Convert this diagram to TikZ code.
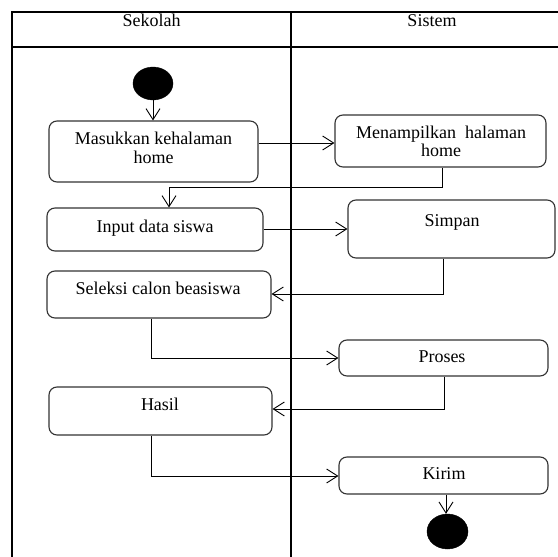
\documentclass[tikz,border=0pt]{standalone}
\usepackage{fontspec}
\setmainfont{Liberation Serif}
\usetikzlibrary{shapes.geometric,arrows.meta}
\tikzset{
  box/.style={draw=black!80, line width=1.1pt, rounded corners=8pt, inner sep=0pt, fill=white},
  txt/.style={anchor=base, inner sep=0pt, font=\fontsize{18}{19}\selectfont},
  dot/.style={ellipse, fill=black, draw=black, inner sep=0pt},
  arr/.style={line width=0.9pt, -{Straight Barb[length=11pt,width=14pt,line width=0.9pt]}},
  lane/.style={line width=1.3pt},
}
\begin{document}
\begin{tikzpicture}[x=1pt,y=1pt]
\useasboundingbox (0,0) rectangle (558,-557);
% swimlanes
\draw[lane] (12,-557) -- (12,-12) -- (558,-12);
\draw[lane] (12,-47) -- (558,-47);
\draw[lane] (291,-12) -- (291,-557);
\node[txt] (h1) at (151.5,-26) {Sekolah};
\node[txt] (h2) at (432,-26) {Sistem};
% nodes
\node[dot, minimum width=40pt, minimum height=33pt] (st) at (153,-83.5) {};
\node[box, minimum width=209pt, minimum height=61pt] (b1) at (153.5,-151.5) {};
\node[box, minimum width=211pt, minimum height=52pt] (b2) at (440.5,-141) {};
\node[box, minimum width=216pt, minimum height=43pt] (b3) at (155,-229.5) {};
\node[box, minimum width=207pt, minimum height=58pt] (b4) at (451.5,-229) {};
\node[box, minimum width=224pt, minimum height=47pt] (b5) at (159,-294.5) {};
\node[box, minimum width=209pt, minimum height=36pt] (b6) at (443.5,-358) {};
\node[box, minimum width=223pt, minimum height=48pt] (b7) at (160.5,-411) {};
\node[box, minimum width=209pt, minimum height=37pt] (b8) at (443.5,-475.5) {};
\node[dot, minimum width=41pt, minimum height=35pt] (en) at (447.5,-531.5) {};
% texts
\node[txt] (t1a) at (153.5,-144) {Masukkan kehalaman};
\node[txt] (t1b) at (153.5,-163) {home};
\node[txt] (t2a) at (441,-138) {Menampilkan\ \ halaman};
\node[txt] (t2b) at (441,-156) {home};
\node[txt] (t3) at (155,-232) {Input data siswa};
\node[txt] (t4) at (452,-226) {Simpan};
\node[txt] (t5) at (158,-294) {Seleksi calon beasiswa};
\node[txt] (t6) at (442,-362) {Proses};
\node[txt] (t7) at (160,-410) {Hasil};
\node[txt] (t8) at (444,-479) {Kirim};
% bend coordinates
\coordinate (a2) at (300,-143);
\coordinate (k3a) at (442,-187);
\coordinate (k3b) at (169,-187);
\coordinate (a4) at (300,-229);
\coordinate (k5) at (443,-294);
\coordinate (k6) at (151,-358);
\coordinate (k7) at (444,-409);
\coordinate (k8) at (151,-476);
\coordinate (k9) at (446,-500);
% connectors
\draw[arr] (st.south) -- (st.south |- b1.north);
\draw[arr] (a2 -| b1.east) -- (a2 -| b2.west);
\draw[arr] (k3a |- b2.south) -- (k3a) -- (k3b) -- (k3b |- b3.north);
\draw[arr] (a4 -| b3.east) -- (a4 -| b4.west);
\draw[arr] (k5 |- b4.south) -- (k5) -- (k5 -| b5.east);
\draw[arr] (k6 |- b5.south) -- (k6) -- (k6 -| b6.west);
\draw[arr] (k7 |- b6.south) -- (k7) -- (k7 -| b7.east);
\draw[arr] (k8 |- b7.south) -- (k8) -- (k8 -| b8.west);
\draw[arr] (k9 |- b8.south) -- (k9 |- en.north);
\end{tikzpicture}
\end{document}
